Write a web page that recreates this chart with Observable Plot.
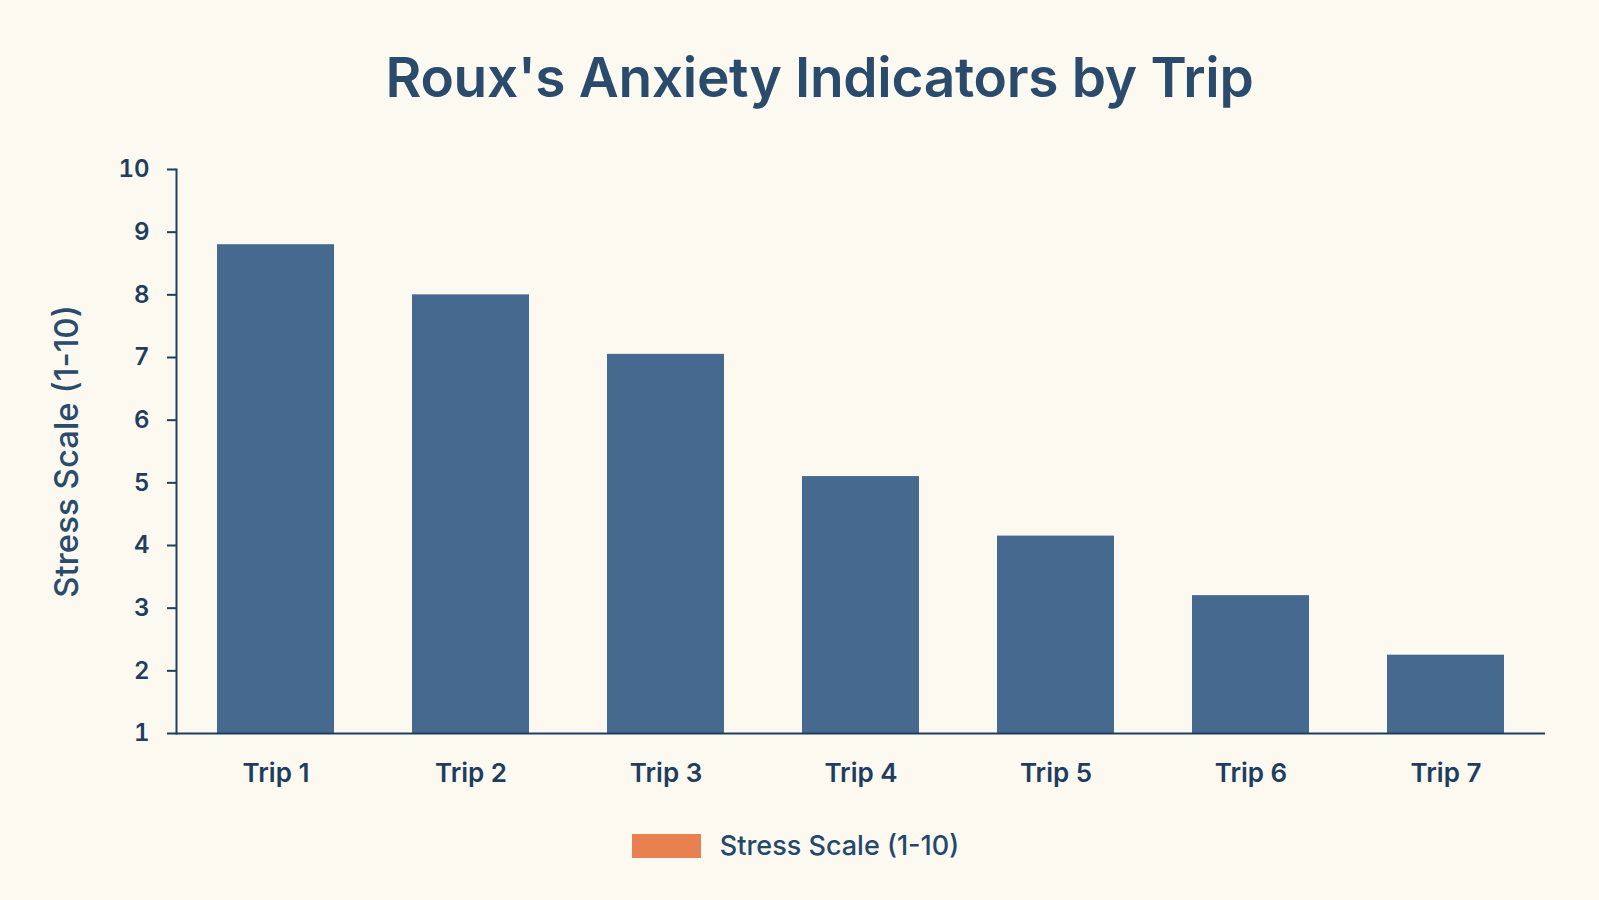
<!DOCTYPE html>
<html>
<head>
<meta charset="utf-8">
<script src="https://cdn.jsdelivr.net/npm/d3@7"></script>
<script src="https://cdn.jsdelivr.net/npm/@observablehq/plot@0.6"></script>
<style>
  html, body { margin: 0; padding: 0; background: #fcf9f1; }
  body { width: 1599px; height: 900px; overflow: hidden; font-family: Inter, "Noto Sans", sans-serif; }
  #title { height: 135px; box-sizing: border-box; padding-top: 47px; padding-left: 40px; text-align: center;
           font-size: 55px; font-weight: 600; color: #2a4b6c; line-height: 60px; letter-spacing: -0.3px; }
  #legend { height: 100px; display: flex; justify-content: center; align-items: flex-start; padding-top: 34px; padding-right: 8px; box-sizing: border-box; }
  #legend .sw { width: 69px; height: 24px; background: #e8804f; margin-right: 19px; }
  #legend .lb { font-size: 27px; font-weight: 500; color: #24486b; line-height: 24px; }
</style>
</head>
<body>
<div id="title">Roux's Anxiety Indicators by Trip</div>
<div id="chart"></div>
<div id="legend"><div class="sw"></div><div class="lb">Stress Scale (1-10)</div></div>
<script>
const trips = ["Trip 1", "Trip 2", "Trip 3", "Trip 4", "Trip 5", "Trip 6", "Trip 7"];
const stress = [8.8, 8.0, 7.05, 5.1, 4.15, 3.2, 2.25];
const yTicks = [1, 2, 3, 4, 5, 6, 7, 8, 9, 10];
const seriesName = "Stress Scale (1-10)";

const data = trips.map((t, i) => ({trip: t, value: stress[i]}));

const axisColor = "#1f3d5e";
const chart = Plot.plot({
  width: 1599,
  height: 665,
  marginTop: 34,
  marginBottom: 67,
  marginLeft: 176,
  marginRight: 54,
  style: {background: "transparent", fontFamily: "Inter, 'Noto Sans', sans-serif", color: axisColor},
  x: {domain: trips, paddingInner: 0.4, paddingOuter: 0.2},
  y: {domain: [1, 10]},
  marks: [
    Plot.barY(data, {x: "trip", y1: 1, y2: "value", fill: "#46698f"}),
    Plot.ruleY([1], {stroke: axisColor, strokeWidth: 2}),
    Plot.frame({anchor: "left", stroke: axisColor, strokeWidth: 2}),
    Plot.axisY({ticks: yTicks, tickSize: 9, tickPadding: 18, tickFormat: d => String(d),
      fontSize: 24, fontWeight: 600, stroke: axisColor, strokeWidth: 2, color: axisColor,
      label: seriesName, labelAnchor: "center", labelArrow: "none", labelOffset: 122}),
    Plot.axisX({tickSize: 0, tickPadding: 30, fontSize: 26, fontWeight: 600, label: null})
  ]
});
document.getElementById("chart").appendChild(chart);
const lab = chart.querySelector("g[aria-label='y-axis label'] text");
if (lab) { lab.setAttribute("font-size", 33); lab.setAttribute("font-weight", 500); lab.setAttribute("fill", "#2a4b6c"); }
</script>
</body>
</html>
